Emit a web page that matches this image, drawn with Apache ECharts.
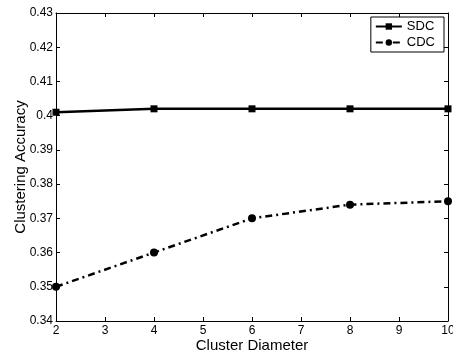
<!DOCTYPE html>
<html>
<head>
<meta charset="utf-8">
<script src="https://cdn.jsdelivr.net/npm/echarts@6/dist/echarts.min.js"></script>
<style>
html, body { margin: 0; padding: 0; background: #fff; }
#main { width: 453px; height: 354px; }
</style>
</head>
<body>
<div id="main"></div>
<script type="text/javascript">
var diameters = [2, 4, 6, 8, 10];
var sdcValues = [0.401, 0.402, 0.402, 0.402, 0.402];
var cdcValues = [0.350, 0.360, 0.370, 0.374, 0.375];

function pairs(xs, ys) {
    return xs.map(function (x, i) { return [x, ys[i]]; });
}
function fmt(v) { return String(parseFloat(v.toFixed(2))); }

var font = 'Liberation Sans, Arial, sans-serif';
var myChart = echarts.init(document.getElementById('main'));
var option = {
    animation: false,
    textStyle: { fontFamily: font },
    grid: { left: 56, top: 13, right: 5, bottom: 33, containLabel: false, outerBoundsMode: 'none' },
    legend: {
        right: 9, top: 17,
        orient: 'vertical',
        backgroundColor: '#fff',
        borderColor: '#000', borderWidth: 1, borderRadius: 0,
        padding: [3, 9, 3, 4],
        itemGap: 3, itemWidth: 26, itemHeight: 8,
        textStyle: { fontSize: 13, color: '#000', fontFamily: font },
        data: ['SDC', 'CDC']
    },
    xAxis: [{
        type: 'value', min: 2, max: 10, interval: 1,
        name: 'Cluster Diameter', nameLocation: 'middle', nameGap: 17,
        nameMoveOverlap: false,
        nameTextStyle: { fontSize: 15, color: '#000' },
        axisLine: { lineStyle: { color: '#000', width: 1 } },
        axisTick: { inside: true, length: 4, lineStyle: { color: '#000' } },
        axisLabel: { color: '#000', fontSize: 12, margin: 4 },
        splitLine: { show: false }
    }, {
        type: 'value', min: 2, max: 10, interval: 1, position: 'top',
        axisLine: { lineStyle: { color: '#000', width: 1 } },
        axisTick: { inside: true, length: 4, lineStyle: { color: '#000' } },
        axisLabel: { show: false }, splitLine: { show: false }
    }],
    yAxis: [{
        type: 'value', min: 0.34, max: 0.43, interval: 0.01,
        name: 'Clustering Accuracy', nameLocation: 'middle', nameGap: 28,
        nameMoveOverlap: false,
        nameTextStyle: { fontSize: 15, color: '#000' },
        axisLine: { show: true, lineStyle: { color: '#000', width: 1 } },
        axisTick: { show: true, inside: true, length: 4, lineStyle: { color: '#000' } },
        axisLabel: { color: '#000', fontSize: 12, margin: 3, formatter: fmt },
        splitLine: { show: false }
    }, {
        type: 'value', min: 0.34, max: 0.43, interval: 0.01, position: 'right',
        axisLine: { show: true, lineStyle: { color: '#000', width: 1 } },
        axisTick: { show: true, inside: true, length: 4, lineStyle: { color: '#000' } },
        axisLabel: { show: false }, splitLine: { show: false }
    }],
    series: [{
        name: 'SDC', type: 'line',
        data: pairs(diameters, sdcValues),
        symbol: 'rect', symbolSize: 7,
        itemStyle: { color: '#000' },
        lineStyle: { color: '#000', width: 2.5 }
    }, {
        name: 'CDC', type: 'line',
        data: pairs(diameters, cdcValues),
        symbol: 'circle', symbolSize: 8,
        itemStyle: { color: '#000' },
        lineStyle: { color: '#000', width: 2.5, type: [7, 4, 2, 4] }
    }]
};
myChart.setOption(option);
</script>
</body>
</html>
